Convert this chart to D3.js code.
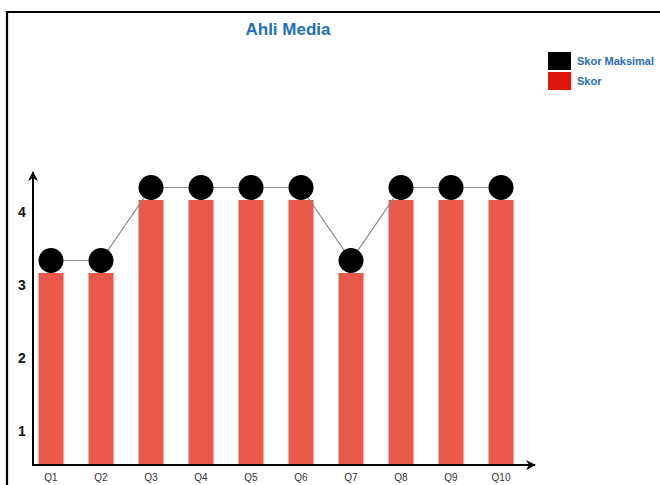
<!DOCTYPE html>
<html>
<head>
<meta charset="utf-8">
<script src="https://cdn.jsdelivr.net/npm/d3@7"></script>
<style>
  html, body { margin: 0; padding: 0; background: #fff; }
  svg { display: block; font-family: "Liberation Sans", Arial, sans-serif; }
</style>
</head>
<body>
<svg id="chart" width="660" height="485"></svg>
<script>
const categories = ["Q1","Q2","Q3","Q4","Q5","Q6","Q7","Q8","Q9","Q10"];
const skor = [3, 3, 4, 4, 4, 4, 3, 4, 4, 4];
const skorMaksimal = [3, 3, 4, 4, 4, 4, 3, 4, 4, 4];
const yTicks = [1, 2, 3, 4];
const seriesNames = ["Skor Maksimal", "Skor"];
const title = "Ahli Media";

const svg = d3.select("#chart");
const W = 660, H = 485;

// frame
svg.append("path")
  .attr("d", `M7,${H + 5} L7,12 L${W + 5},12`)
  .attr("fill", "none").attr("stroke", "#000").attr("stroke-width", 2.2);

const x0 = 33, yBase = 465;
const x = d3.scaleBand().domain(categories).range([26, 526]).paddingInner(0.5).paddingOuter(0.25);
const y = d3.scaleLinear().domain([3, 4]).range([273, 200]);

const barColor = "#e8594a";

// bars
svg.append("g").selectAll("rect").data(categories).join("rect")
  .attr("x", d => x(d) + x.bandwidth() / 2 - 12.5)
  .attr("width", 25)
  .attr("y", (d, i) => y(skor[i]))
  .attr("height", (d, i) => yBase - y(skor[i]))
  .attr("fill", barColor);

// axes
const defs = svg.append("defs");
defs.append("marker").attr("id", "arr").attr("viewBox", "0 0 10 10")
  .attr("refX", 9).attr("refY", 5).attr("markerWidth", 10).attr("markerHeight", 10)
  .attr("markerUnits", "userSpaceOnUse").attr("orient", "auto")
  .append("path").attr("d", "M0,0 L10,5 L0,10 L3,5 Z").attr("fill", "#000");

svg.append("line").attr("x1", x0).attr("y1", yBase + 1).attr("x2", x0).attr("y2", 172)
  .attr("stroke", "#000").attr("stroke-width", 2).attr("marker-end", "url(#arr)");
svg.append("line").attr("x1", x0 - 1).attr("y1", yBase).attr("x2", 535).attr("y2", yBase)
  .attr("stroke", "#000").attr("stroke-width", 2).attr("marker-end", "url(#arr)");

// y tick labels
svg.append("g").selectAll("text").data(yTicks).join("text")
  .attr("x", 22).attr("y", d => y(d) + 12)
  .attr("text-anchor", "middle").attr("dominant-baseline", "central")
  .attr("font-size", 14).attr("font-weight", "bold").attr("fill", "#111")
  .text(d => d);

// x tick labels
svg.append("g").selectAll("text").data(categories).join("text")
  .attr("x", d => x(d) + x.bandwidth() / 2).attr("y", 477)
  .attr("text-anchor", "middle").attr("dominant-baseline", "central")
  .attr("font-size", 10).attr("fill", "#333")
  .text(d => d);

// line + dots for Skor Maksimal
const r = 12.5;
const cx = d => x(d) + x.bandwidth() / 2;
const line = d3.line().x(d => cx(d.c)).y(d => y(d.v) - r);
const pts = categories.map((c, i) => ({ c, v: skorMaksimal[i] }));
svg.append("path").datum(pts).attr("d", line)
  .attr("fill", "none").attr("stroke", "#888").attr("stroke-width", 1.2);
svg.append("g").selectAll("circle").data(pts).join("circle")
  .attr("cx", d => cx(d.c)).attr("cy", d => y(d.v) - r).attr("r", r)
  .attr("fill", "#000");

// title
svg.append("text").attr("x", 288).attr("y", 29)
  .attr("text-anchor", "middle").attr("dominant-baseline", "central")
  .attr("font-size", 17).attr("font-weight", "bold").attr("fill", "#2170c0")
  .text(title);

// legend
const legendColors = ["#000", "#e0150c"];
const lg = svg.append("g");
seriesNames.forEach((name, i) => {
  const yy = 52 + i * 20;
  lg.append("rect").attr("x", 548).attr("y", yy).attr("width", 23).attr("height", 18)
    .attr("fill", legendColors[i]);
  lg.append("text").attr("x", 577).attr("y", yy + 8.5)
    .attr("dominant-baseline", "central")
    .attr("font-size", 11).attr("font-weight", "bold").attr("fill", "#2a6db8")
    .text(name);
});
</script>
</body>
</html>
